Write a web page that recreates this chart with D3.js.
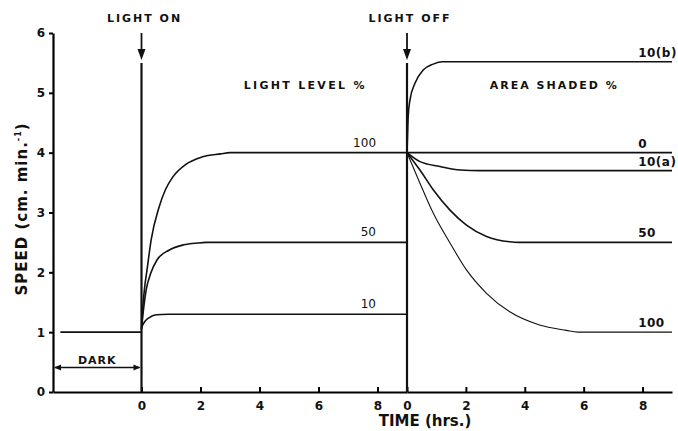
<!DOCTYPE html>
<html>
<head>
<meta charset="utf-8">
<script src="https://cdn.jsdelivr.net/npm/d3@7/dist/d3.min.js"></script>
<style>
  html, body { margin: 0; padding: 0; background: #fff; }
  svg { display: block; }
  text { font-family: "DejaVu Sans", sans-serif; font-weight: bold; fill: #111; }
</style>
</head>
<body>
<svg id="chart" width="678" height="431"></svg>
<script>
// Speed (cm/min) against time (hrs) for the two phases of the experiment.
const darkSpeed = [[-2.75, 1.0], [0, 1.0]];

// Phase 1: light switched on at t = 0, one curve per light level (%).
const lightLevels = ["100", "50", "10"];
const lightOn100 = [[0, 1.05], [0.05, 1.45], [0.1, 1.72], [0.19, 2.05], [0.33, 2.55], [0.59, 3.08], [0.81, 3.38],
  [1.07, 3.6], [1.49, 3.8], [2.06, 3.93], [2.68, 3.98], [3.0, 4.0], [9, 4.0]];
const lightOn50 = [[0, 1.05], [0.08, 1.43], [0.16, 1.71], [0.31, 1.98], [0.53, 2.21], [0.93, 2.37], [1.43, 2.46],
  [1.89, 2.49], [2.2, 2.5], [9, 2.5]];
const lightOn10 = [[0, 1.08], [0.1, 1.17], [0.25, 1.24], [0.5, 1.29], [0.9, 1.3], [9, 1.3]];
const lightOnSeries = [lightOn100, lightOn50, lightOn10];

// Phase 2: light switched off at t = 0, one curve per shaded area (%).
const shadedLabels = ["10(b)", "0", "10(a)", "50", "100"];
const off10b = [[0, 4.0], [0.02, 4.3], [0.04, 4.6], [0.1, 4.88], [0.27, 5.16], [0.55, 5.38], [0.89, 5.48],
  [1.2, 5.52], [9, 5.52]];
const off0 = [[0, 4.0], [9, 4.0]];
const off10a = [[0, 4.0], [0.44, 3.85], [1.12, 3.77], [1.8, 3.71], [2.5, 3.7], [9, 3.7]];
const off50 = [[0, 4.0], [0.44, 3.71], [0.89, 3.38], [1.46, 3.04], [2.02, 2.79], [2.7, 2.6], [3.49, 2.51],
  [3.8, 2.5], [9, 2.5]];
const off100 = [[0, 4.0], [0.44, 3.49], [0.89, 2.99], [1.46, 2.49], [2.02, 2.04], [2.7, 1.65], [3.49, 1.34],
  [4.5, 1.12], [5.41, 1.03], [5.8, 1.0], [9, 1.0]];
const lightOffSeries = [off10b, off0, off10a, off50, off100];

// Axis ticks
const speedTicks = [0, 1, 2, 3, 4, 5, 6];
const hourTicks = [0, 2, 4, 6, 8];

const svg = d3.select("#chart");

const x1 = d3.scaleLinear().domain([-3, 9]).range([53, 407]);
const x2 = d3.scaleLinear().domain([0, 9]).range([407, 672]);
const y = d3.scaleLinear().domain([0, 6]).range([392, 33]);

const line1 = d3.line().x(d => x1(d[0])).y(d => y(d[1])).curve(d3.curveMonotoneX);
const line2 = d3.line().x(d => x2(d[0])).y(d => y(d[1])).curve(d3.curveMonotoneX);

function styleTickText(g) {
  g.selectAll(".tick text").style("font-size", "12px").style("font-family", "DejaVu Sans")
    .style("font-weight", "bold").attr("fill", "#111");
}

// Y axis
const yAxis = svg.append("g")
  .attr("transform", `translate(${x1(-3)},0)`)
  .call(d3.axisLeft(y).tickValues(speedTicks).tickFormat(d3.format("d"))
    .tickSizeInner(4).tickSizeOuter(0).tickPadding(4));
yAxis.select(".domain").attr("stroke-width", 2.2);
yAxis.selectAll(".tick line").attr("stroke-width", 2);
styleTickText(yAxis);

// X axis, two consecutive segments
function hourAxis(scale) {
  const g = svg.append("g")
    .attr("transform", `translate(0,${y(0)})`)
    .call(d3.axisBottom(scale).tickValues(hourTicks).tickFormat(d3.format("d"))
      .tickSizeInner(-5).tickSizeOuter(0).tickPadding(9));
  g.select(".domain").attr("stroke-width", 2.2);
  g.selectAll(".tick line").attr("stroke-width", 2);
  styleTickText(g);
  return g;
}
hourAxis(x1);
hourAxis(x2);

// Light switch lines with arrows
function switchMarker(xPos, label) {
  svg.append("line").attr("x1", xPos).attr("x2", xPos).attr("y1", y(0)).attr("y2", y(5.5))
    .attr("stroke", "#111").attr("stroke-width", 2.2);
  svg.append("line").attr("x1", xPos).attr("x2", xPos).attr("y1", y(6)).attr("y2", y(5.68))
    .attr("stroke", "#111").attr("stroke-width", 1.8);
  const tip = y(5.55);
  svg.append("path")
    .attr("d", `M${xPos - 4},${tip - 11} L${xPos + 4},${tip - 11} L${xPos},${tip} Z`)
    .attr("fill", "#111");
  svg.append("text").attr("x", xPos + 3).attr("y", 22).attr("text-anchor", "middle")
    .style("font-size", "11px").style("letter-spacing", "2px").text(label);
}
switchMarker(x1(0), "LIGHT ON");
switchMarker(x2(0), "LIGHT OFF");

// Dark period
svg.append("path").attr("d", line1(darkSpeed)).attr("fill", "none").attr("stroke", "#111").attr("stroke-width", 1.6);
const dy = y(0.41);
svg.append("line").attr("x1", x1(-3) + 2).attr("x2", x1(0) - 2).attr("y1", dy).attr("y2", dy)
  .attr("stroke", "#111").attr("stroke-width", 1.4);
svg.append("path")
  .attr("d", `M${x1(-3) + 1},${dy} l7,-3 l0,6 Z M${x1(0) - 1},${dy} l-7,-3 l0,6 Z`)
  .attr("fill", "#111");
svg.append("text").attr("x", (x1(-3) + x1(0)) / 2).attr("y", dy - 3).attr("text-anchor", "middle")
  .style("font-size", "11px").style("letter-spacing", "1px").text("DARK");

// Light-on curves
lightOnSeries.forEach((s, i) => {
  svg.append("path").attr("d", line1(s)).attr("fill", "none").attr("stroke", "#111").attr("stroke-width", 1.6);
  const last = s[s.length - 1];
  svg.append("text").attr("x", x1(7.95)).attr("y", y(last[1]) - 6).attr("text-anchor", "end")
    .style("font-size", "12px").style("font-weight", "normal").text(lightLevels[i]);
});

// Light-off curves
lightOffSeries.forEach((s, i) => {
  svg.append("path").attr("d", line2(s)).attr("fill", "none").attr("stroke", "#111")
    .attr("stroke-width", i === 4 ? 1.1 : 1.6);
  const last = s[s.length - 1];
  svg.append("text").attr("x", x2(7.85)).attr("y", y(last[1]) - 5).attr("text-anchor", "start")
    .style("font-size", "12px").style("letter-spacing", "0.5px").text(shadedLabels[i]);
});

// Legend headings
svg.append("text").attr("x", x1(5.55)).attr("y", 89).attr("text-anchor", "middle")
  .style("font-size", "11px").style("letter-spacing", "2.3px").text("LIGHT LEVEL %");
svg.append("text").attr("x", x2(5)).attr("y", 89).attr("text-anchor", "middle")
  .style("font-size", "11px").style("letter-spacing", "2px").text("AREA SHADED %");

// Axis titles
svg.append("text").attr("x", 425).attr("y", 426).attr("text-anchor", "middle")
  .style("font-size", "15px").text("TIME (hrs.)");
const yt = svg.append("text").attr("transform", "translate(27,209) rotate(-90)").attr("text-anchor", "middle")
  .style("font-size", "15px").style("letter-spacing", "1px");
yt.append("tspan").text("SPEED  (cm. min.");
yt.append("tspan").attr("dy", -6).style("font-size", "8px").text("-1");
yt.append("tspan").attr("dy", 6).text(")");
</script>
</body>
</html>
